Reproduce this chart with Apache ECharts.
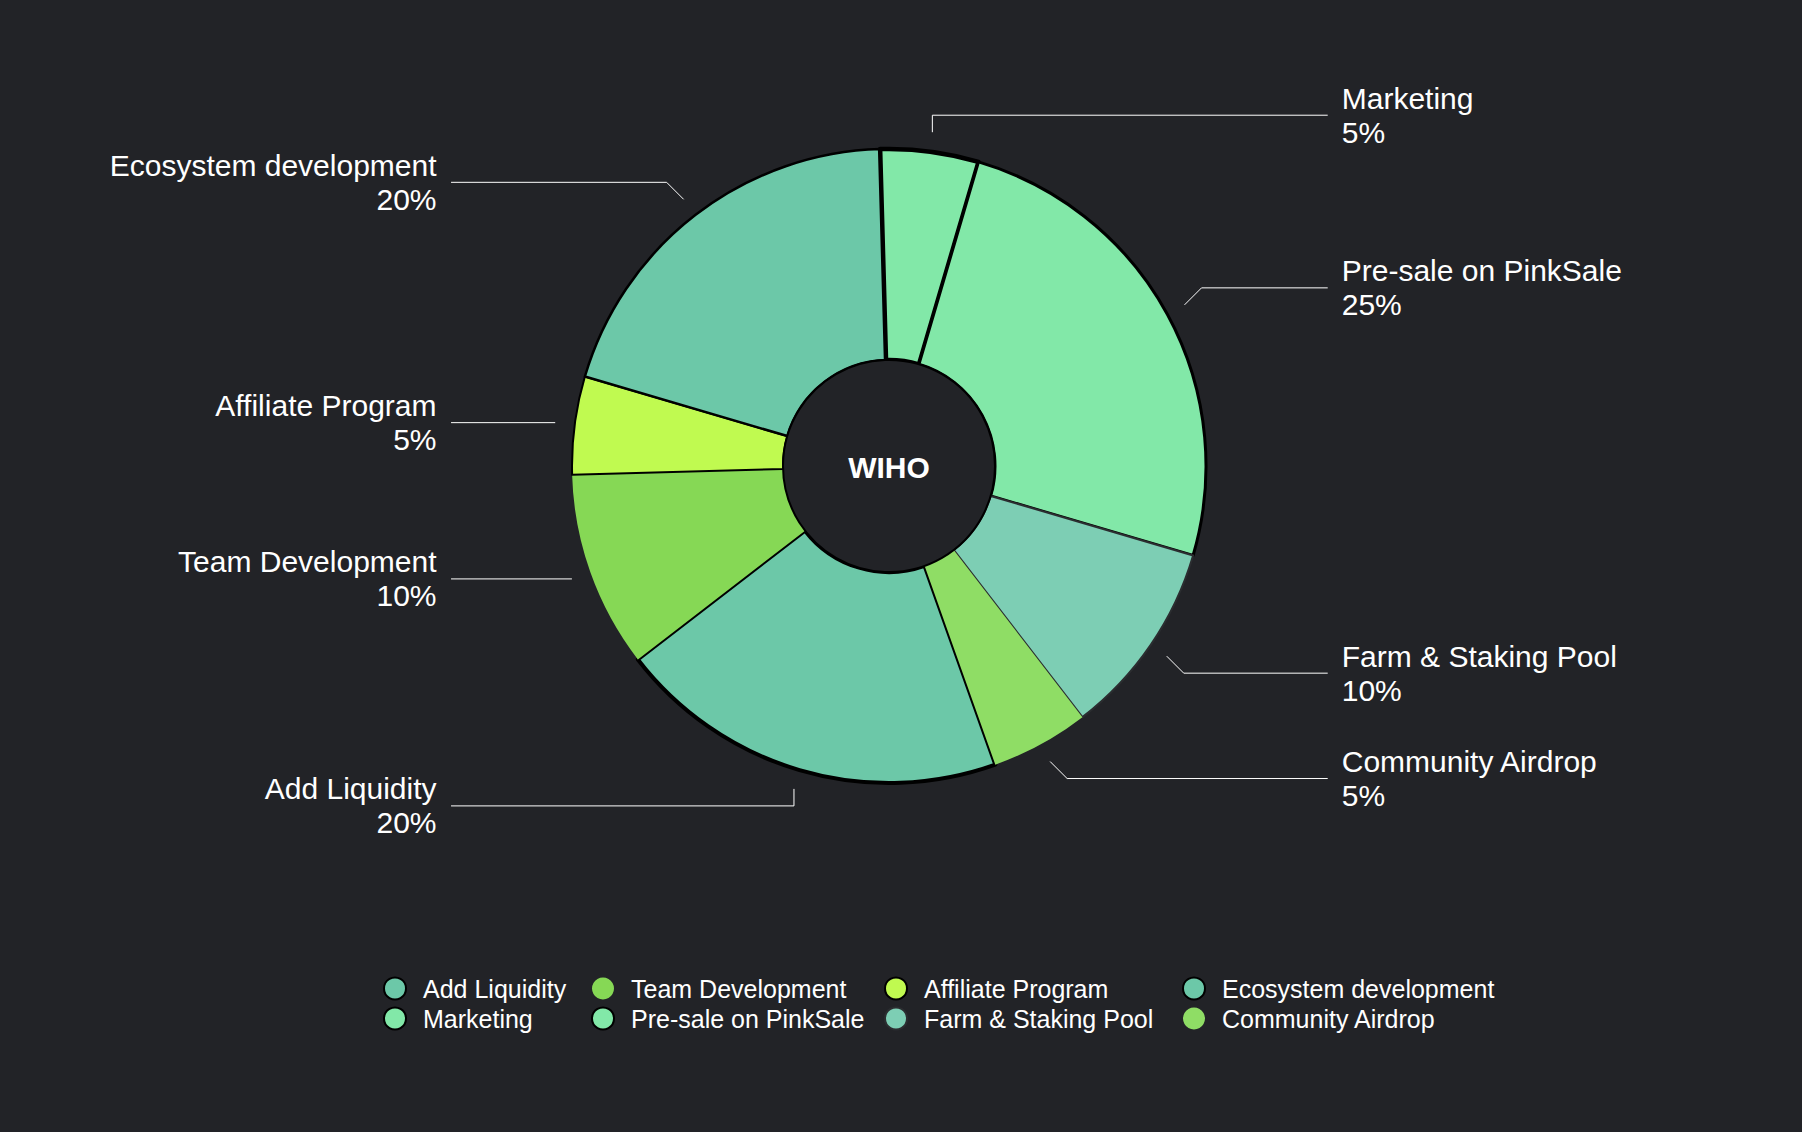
<!DOCTYPE html>
<html>
<head>
<meta charset="utf-8">
<style>
html,body{margin:0;padding:0;background:#222327;}
#main{width:1802px;height:1132px;}
</style>
<script src="https://cdn.jsdelivr.net/npm/echarts@6/dist/echarts.min.js"></script>
</head>
<body>
<div id="main"></div>
<script>
// ---- data ----
const categories = ['Add Liquidity', 'Team Development', 'Affiliate Program', 'Ecosystem development',
                    'Marketing', 'Pre-sale on PinkSale', 'Farm & Staking Pool', 'Community Airdrop'];
const shares = [20, 10, 5, 20, 5, 25, 10, 5];
const centerTitle = 'WIHO';

// ---- styles ----
const sliceColors = ['#6cc8a8', '#86d855', '#c0fa50', '#6cc8a8', '#82e8a8', '#82e8a8', '#7dceb4', '#8fdd65'];
const sliceBorderColors = ['#000', '#000', '#000', '#000', '#000', '#000', '#2b2d30', '#000'];
const sliceBorderWidths = [4, 0, 2, 2.5, 4.5, 3, 2, 0];
const legendColumns = [[0, 4], [1, 5], [2, 6], [3, 7]];
const legendColumnLeft = [378, 586, 879, 1177];

const FONT = '"Liberation Sans", Arial, Helvetica, sans-serif';
const BG = '#222327';
const CX = 889, CY = 466, R_IN = 106, R_OUT = 317;
const TICK_GAP = 19.6;   // gap between slice edge and tick start
const TICK_BEND = 17;    // vertical rise of the bent tick segment

const chart = echarts.init(document.getElementById('main'), null, { renderer: 'svg' });

const option = {
  backgroundColor: BG,
  animation: false,
  legend: legendColumns.map((col, i) => ({
    orient: 'vertical',
    left: legendColumnLeft[i],
    top: 971,
    itemGap: 5,
    itemWidth: 46,
    itemHeight: 22,
    icon: 'circle',
    selectedMode: false,
    data: col.map(j => categories[j]),
    textStyle: { color: '#ffffff', fontSize: 25, fontFamily: FONT }
  })),
  graphic: [
    { type: 'circle', z: 10, silent: true,
      shape: { cx: CX, cy: CY, r: R_IN },
      style: { fill: BG, stroke: '#000', lineWidth: 2 } },
    { type: 'text', z: 11, silent: true, x: CX, y: CY + 1,
      style: { text: centerTitle, fill: '#ffffff', font: 'bold 30px ' + FONT,
               align: 'center', verticalAlign: 'middle', textAlign: 'center', textVerticalAlign: 'middle' } }
  ],
  series: [{
    type: 'pie',
    center: [CX, CY],
    radius: [R_IN, R_OUT],
    startAngle: -70.4,
    clockwise: true,
    avoidLabelOverlap: false,
    emphasis: { disabled: true },
    data: categories.map((name, i) => ({
      name: name,
      value: shares[i],
      itemStyle: { color: sliceColors[i], borderColor: sliceBorderColors[i], borderWidth: sliceBorderWidths[i] }
    })),
    label: {
      show: true,
      formatter: '{b}\n{d}%',
      color: '#ffffff',
      fontSize: 30,
      lineHeight: 34,
      fontFamily: FONT
    },
    labelLine: {
      show: true,
      length: 43,
      length2: 20,
      lineStyle: { color: '#ffffff', width: 1 }
    },
    labelLayout: function (p) {
      const W = chart.getWidth();
      const pts = p.labelLinePoints;
      if (!pts || pts.length < 3) return {};
      const dx = pts[1][0] - pts[0][0], dy = pts[1][1] - pts[0][1];
      const len = Math.hypot(dx, dy) || 1;
      const ux = dx / len, uy = dy / len;
      const p0 = [pts[0][0] + ux * TICK_GAP, pts[0][1] + uy * TICK_GAP];
      const ang = Math.atan2(-uy, ux);
      const q = Math.round(ang / (Math.PI / 4)) * (Math.PI / 4);
      const sq = Math.sin(q), cq = Math.cos(q);
      let p1;
      if (Math.abs(sq) < 1e-6) {
        p1 = [p0[0], p0[1]];
      } else {
        const tdy = -Math.sign(sq) * TICK_BEND;
        const tdx = Math.abs(cq) < 1e-6 ? 0 : Math.sign(cq) * TICK_BEND;
        p1 = [p0[0] + tdx, p0[1] + tdy];
      }
      const isLeft = ux < 0;
      const y = p1[1];
      const endX = isLeft ? W * 0.2503 : W * 0.7368;
      return {
        x: isLeft ? endX - 14.5 : endX + 14,
        y: y,
        align: isLeft ? 'right' : 'left',
        verticalAlign: 'middle',
        labelLinePoints: [p0, p1, [endX, y]]
      };
    }
  }]
};
chart.setOption(option);
</script>
</body>
</html>
